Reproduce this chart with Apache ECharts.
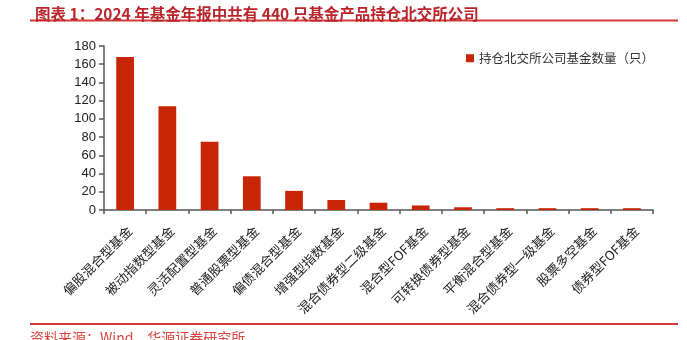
<!DOCTYPE html>
<html>
<head>
<meta charset="utf-8">
<style>
  html, body { margin: 0; padding: 0; background: #fff; }
  #chart { width: 687px; height: 340px; }
</style>
<script src="https://cdn.jsdelivr.net/npm/echarts@6/dist/echarts.min.js"></script>
</head>
<body>
<div id="chart"></div>
<script>
// Fund categories holding BSE-listed companies (2024 annual reports)
const categories = [
  '偏股混合型基金', '被动指数型基金', '灵活配置型基金', '普通股票型基金',
  '偏债混合型基金', '增强型指数基金', '混合债券型二级基金', '混合型FOF基金',
  '可转换债券型基金', '平衡混合型基金', '混合债券型一级基金', '股票多空基金',
  '债券型FOF基金'
];
const fundCounts = [168, 114, 75, 37, 21, 11, 8, 5, 3, 2, 2, 2, 2];
const seriesName = '持仓北交所公司基金数量（只）';
const titleText = '图表 1：2024 年基金年报中共有 440 只基金产品持仓北交所公司';
const sourceText = '资料来源：Wind，华源证券研究所';

const RED = '#b8262b';
const BAR = '#c82506';
const AXIS = '#555';
const LATIN = 'Liberation Sans, Arial, sans-serif';
const CJK = '"Noto Sans CJK SC", "Liberation Sans", sans-serif';

const chart = echarts.init(document.getElementById('chart'), null, { renderer: 'canvas' });

chart.setOption({
  animation: false,
  backgroundColor: '#fff',
  title: {
    text: titleText,
    left: 30,
    top: 1,
    textStyle: { color: RED, fontSize: 15.5, fontWeight: 'bold', fontFamily: CJK }
  },
  legend: {
    data: [seriesName],
    left: 461,
    top: 47,
    itemWidth: 8,
    itemHeight: 8,
    itemGap: 6,
    icon: 'rect',
    textStyle: { color: '#333', fontSize: 12.5, fontFamily: CJK }
  },
  graphic: [
    { type: 'line', shape: { x1: 30, y1: 20.5, x2: 678, y2: 20.5 },
      style: { stroke: '#d33a3a', lineWidth: 2 } },
    { type: 'line', shape: { x1: 30, y1: 324, x2: 678, y2: 324 },
      style: { stroke: '#d33a3a', lineWidth: 2 } },
    { type: 'text', left: 30, top: 331,
      style: { text: sourceText, fill: '#d9443f', fontSize: 14, fontFamily: CJK } }
  ],
  grid: { left: 104, right: 34, top: 46, bottom: 130, containLabel: false },
  xAxis: {
    type: 'category',
    data: categories,
    axisLine: { lineStyle: { color: AXIS, width: 1.5 } },
    axisTick: { show: true, length: 4, alignWithLabel: false, lineStyle: { color: AXIS, width: 1.5 } },
    axisLabel: {
      interval: 0,
      rotate: 45,
      margin: 14,
      verticalAlign: 'top',
      color: '#222',
      fontSize: 13,
      fontFamily: CJK
    }
  },
  yAxis: {
    type: 'value',
    min: 0,
    max: 180,
    interval: 20,
    splitLine: { show: false },
    axisLine: { show: true, lineStyle: { color: AXIS, width: 1.5 } },
    axisTick: { show: true, inside: false, length: 5, lineStyle: { color: AXIS, width: 1.5 } },
    axisLabel: { color: '#222', fontSize: 13, margin: 8, fontFamily: LATIN }
  },
  series: [{
    name: seriesName,
    type: 'bar',
    data: fundCounts,
    barWidth: '42%',
    itemStyle: { color: BAR }
  }]
});
</script>
</body>
</html>
